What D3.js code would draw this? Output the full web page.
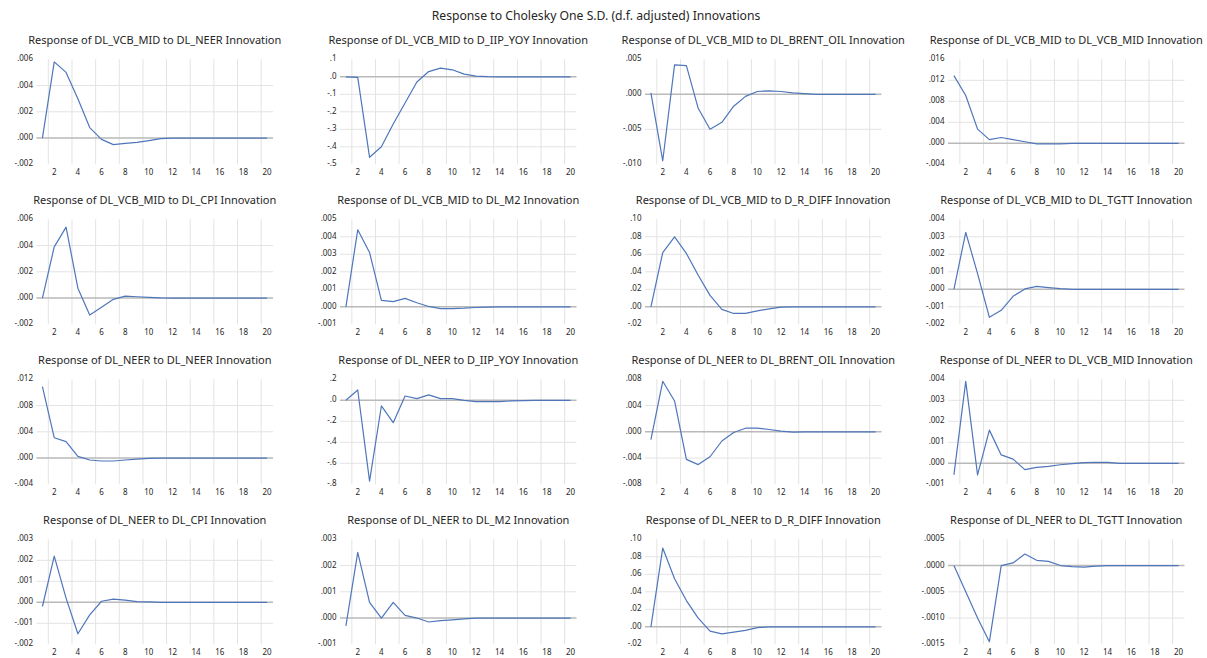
<!DOCTYPE html>
<html>
<head>
<meta charset="utf-8">
<script src="https://cdn.jsdelivr.net/npm/d3@7"></script>
<style>
  html, body { margin: 0; padding: 0; background: #ffffff; }
  svg { display: block; font-family: "Noto Sans", "DejaVu Sans", sans-serif; }
</style>
</head>
<body>
<svg id="chart" width="1207" height="658"></svg>
<script>
// Impulse-response horizon (periods) and the even labels shown on the axis
const periods = [1, 2, 3, 4, 5, 6, 7, 8, 9, 10, 11, 12, 13, 14, 15, 16, 17, 18, 19, 20];
const xTickLabels = ["2", "4", "6", "8", "10", "12", "14", "16", "18", "20"];

const mainTitle = "Response to Cholesky One S.D. (d.f. adjusted) Innovations";

const panelTitles = [
  "Response of DL_VCB_MID to DL_NEER Innovation",
  "Response of DL_VCB_MID to D_IIP_YOY Innovation",
  "Response of DL_VCB_MID to DL_BRENT_OIL Innovation",
  "Response of DL_VCB_MID to DL_VCB_MID Innovation",
  "Response of DL_VCB_MID to DL_CPI Innovation",
  "Response of DL_VCB_MID to DL_M2 Innovation",
  "Response of DL_VCB_MID to D_R_DIFF Innovation",
  "Response of DL_VCB_MID to DL_TGTT Innovation",
  "Response of DL_NEER to DL_NEER Innovation",
  "Response of DL_NEER to D_IIP_YOY Innovation",
  "Response of DL_NEER to DL_BRENT_OIL Innovation",
  "Response of DL_NEER to DL_VCB_MID Innovation",
  "Response of DL_NEER to DL_CPI Innovation",
  "Response of DL_NEER to DL_M2 Innovation",
  "Response of DL_NEER to D_R_DIFF Innovation",
  "Response of DL_NEER to DL_TGTT Innovation"
];

// Responses of DL_VCB_MID
const vcbToNeer   = [0, 0.0058, 0.0050, 0.0030, 0.0008, -0.0001, -0.0005, -0.0004, -0.00033, -0.0002, -0.00005, 0, 0, 0, 0, 0, 0, 0, 0, 0];
const vcbToIip    = [0, -0.003, -0.46, -0.40, -0.27, -0.15, -0.03, 0.03, 0.05, 0.04, 0.015, 0.004, 0.001, 0, 0, 0, 0, 0, 0, 0];
const vcbToOil    = [0.0002, -0.0095, 0.0042, 0.0041, -0.0020, -0.0050, -0.0040, -0.0017, -0.0003, 0.0004, 0.0005, 0.0004, 0.0002, 0.0001, 0, 0, 0, 0, 0, 0];
const vcbToVcb    = [0.0129, 0.0091, 0.0027, 0.0007, 0.0011, 0.0007, 0.0003, -0.0001, -0.0001, -0.0001, 0, 0, 0, 0, 0, 0, 0, 0, 0, 0];
const vcbToCpi    = [0, 0.0039, 0.0054, 0.00075, -0.0013, -0.0007, -0.0001, 0.00015, 0.0001, 0.00005, 0.00001, 0, 0, 0, 0, 0, 0, 0, 0, 0];
const vcbToM2     = [0, 0.0044, 0.0031, 0.00037, 0.0003, 0.00048, 0.00023, 0.00002, -0.0001, -0.0001, -0.00008, -0.00004, -0.00002, 0, 0, 0, 0, 0, 0, 0];
const vcbToRdiff  = [0, 0.062, 0.080, 0.061, 0.036, 0.013, -0.003, -0.0076, -0.0076, -0.0046, -0.0023, -0.0004, 0, 0, 0, 0, 0, 0, 0, 0];
const vcbToTgtt   = [0, 0.00325, 0.0009, -0.0016, -0.0012, -0.0004, 0.00002, 0.00017, 0.0001, 0.00004, 0, 0, 0, 0, 0, 0, 0, 0, 0, 0];

// Responses of DL_NEER
const neerToNeer  = [0.0109, 0.0031, 0.0025, 0.00025, -0.0003, -0.00045, -0.00045, -0.0003, -0.00015, -0.00005, 0, 0, 0, 0, 0, 0, 0, 0, 0, 0];
const neerToIip   = [0, 0.098, -0.77, -0.054, -0.213, 0.041, 0.016, 0.051, 0.016, 0.016, 0, -0.013, -0.013, -0.012, -0.006, -0.003, 0, 0, 0, 0];
const neerToOil   = [-0.0012, 0.0077, 0.0047, -0.0042, -0.0050, -0.0038, -0.0014, -0.0001, 0.00055, 0.00055, 0.00035, 0.0001, -0.00005, 0, 0, 0, 0, 0, 0, 0];
const neerToVcb   = [-0.00055, 0.0039, -0.00055, 0.00158, 0.0004, 0.0002, -0.0003, -0.00019, -0.00015, -0.00007, -0.00002, 0.00003, 0.00005, 0.00004, 0, 0, 0, 0, 0, 0];
const neerToCpi   = [-0.0002, 0.0022, 0.0002, -0.0015, -0.0006, 0.00005, 0.00015, 0.0001, 0.00003, 0.00002, 0, 0, 0, 0, 0, 0, 0, 0, 0, 0];
const neerToM2    = [-0.0003, 0.0025, 0.0006, 0.0000, 0.0006, 0.0001, 0.0000, -0.00015, -0.0001, -0.00007, -0.00003, 0, 0, 0, 0, 0, 0, 0, 0, 0];
const neerToRdiff = [0, 0.090, 0.055, 0.030, 0.010, -0.005, -0.008, -0.006, -0.004, -0.001, 0, 0, 0, 0, 0, 0, 0, 0, 0, 0];
const neerToTgtt  = [0, -0.0005, -0.0010, -0.00145, 0, 0.00005, 0.00022, 0.0001, 0.00008, 0, -0.00002, -0.00003, -0.00001, 0, 0, 0, 0, 0, 0, 0];

// Value-axis tick labels of each panel, top to bottom
const ticksA = [".006", ".004", ".002", ".000", "-.002"];
const ticksB = [".1", ".0", "-.1", "-.2", "-.3", "-.4", "-.5"];
const ticksC = [".005", ".000", "-.005", "-.010"];
const ticksD = [".016", ".012", ".008", ".004", ".000", "-.004"];
const ticksE = [".005", ".004", ".003", ".002", ".001", ".000", "-.001"];
const ticksF = [".10", ".08", ".06", ".04", ".02", ".00", "-.02"];
const ticksG = [".004", ".003", ".002", ".001", ".000", "-.001", "-.002"];
const ticksH = [".012", ".008", ".004", ".000", "-.004"];
const ticksI = [".2", ".0", "-.2", "-.4", "-.6", "-.8"];
const ticksJ = [".008", ".004", ".000", "-.004", "-.008"];
const ticksK = [".004", ".003", ".002", ".001", ".000", "-.001"];
const ticksL = [".003", ".002", ".001", ".000", "-.001", "-.002"];
const ticksM = [".003", ".002", ".001", ".000", "-.001"];
const ticksN = [".0005", ".0000", "-.0005", "-.0010", "-.0015"];

const panelSeries = [
  vcbToNeer, vcbToIip, vcbToOil, vcbToVcb,
  vcbToCpi, vcbToM2, vcbToRdiff, vcbToTgtt,
  neerToNeer, neerToIip, neerToOil, neerToVcb,
  neerToCpi, neerToM2, neerToRdiff, neerToTgtt
];
const panelTicks = [
  ticksA, ticksB, ticksC, ticksD,
  ticksA, ticksE, ticksF, ticksG,
  ticksH, ticksI, ticksJ, ticksK,
  ticksL, ticksM, ticksF, ticksN
];

// Grid geometry
const plotLefts = [36.5, 340, 645, 948];
const plotWidth = 236.5;
const rowTops = [59.3, 219.3, 379.3, 539.3];
const plotHeight = 105;

const lineColor = "#4f76bb";
const gridColor = "#e3e3e3";
const zeroColor = "#b9b9b9";
const textColor = "#262626";

const svg = d3.select("#chart");

svg.append("text")
  .attr("x", 596).attr("y", 17)
  .attr("text-anchor", "middle").attr("dominant-baseline", "middle")
  .attr("font-size", 12.2).attr("fill", textColor)
  .text(mainTitle);

panelSeries.forEach((series, i) => {
  const col = i % 4, row = Math.floor(i / 4);
  const left = plotLefts[col], top = rowTops[row];
  const right = left + plotWidth, bottom = top + plotHeight;
  const tickLabels = panelTicks[i];
  const tickValues = tickLabels.map(t => parseFloat(t));

  const x = d3.scaleBand().domain(periods).range([left, right]).padding(0);
  const y = d3.scaleLinear().domain(d3.extent(tickValues)).range([bottom, top]);
  const cx = p => x(p) + x.bandwidth() / 2;

  const g = svg.append("g");

  // vertical grid at the left edge of every even period
  g.selectAll("line.vgrid")
    .data(periods.filter(p => p % 2 === 0))
    .join("line")
    .attr("x1", p => x(p)).attr("x2", p => x(p))
    .attr("y1", top).attr("y2", bottom)
    .attr("stroke", gridColor).attr("stroke-width", 1);

  // horizontal grid at interior ticks
  g.selectAll("line.hgrid")
    .data(tickValues.filter(v => v !== 0 && v !== y.domain()[0] && v !== y.domain()[1]))
    .join("line")
    .attr("x1", left).attr("x2", right)
    .attr("y1", v => y(v)).attr("y2", v => y(v))
    .attr("stroke", gridColor).attr("stroke-width", 1);

  // zero reference line
  g.append("line")
    .attr("x1", left).attr("x2", right)
    .attr("y1", y(0)).attr("y2", y(0))
    .attr("stroke", zeroColor).attr("stroke-width", 1.4);

  // value-axis labels
  g.selectAll("text.ytick")
    .data(tickLabels)
    .join("text")
    .attr("x", left - 3.5)
    .attr("y", (t, k) => y(tickValues[k]))
    .attr("text-anchor", "end").attr("dominant-baseline", "middle")
    .attr("font-size", 8).attr("fill", textColor)
    .text(t => t);

  // period labels
  g.selectAll("text.xtick")
    .data(xTickLabels)
    .join("text")
    .attr("x", t => cx(+t))
    .attr("y", bottom + 9)
    .attr("text-anchor", "middle").attr("dominant-baseline", "middle")
    .attr("font-size", 8).attr("fill", textColor)
    .text(t => t);

  // panel title
  g.append("text")
    .attr("x", (left + right) / 2).attr("y", top - 18.5)
    .attr("text-anchor", "middle").attr("dominant-baseline", "middle")
    .attr("font-size", 11).attr("fill", textColor)
    .text(panelTitles[i]);

  // response path
  g.append("path")
    .datum(series)
    .attr("fill", "none")
    .attr("stroke", lineColor).attr("stroke-width", 1.2)
    .attr("stroke-linejoin", "round")
    .attr("d", d3.line().x((v, k) => cx(periods[k])).y(v => y(v)));
});
</script>
</body>
</html>
